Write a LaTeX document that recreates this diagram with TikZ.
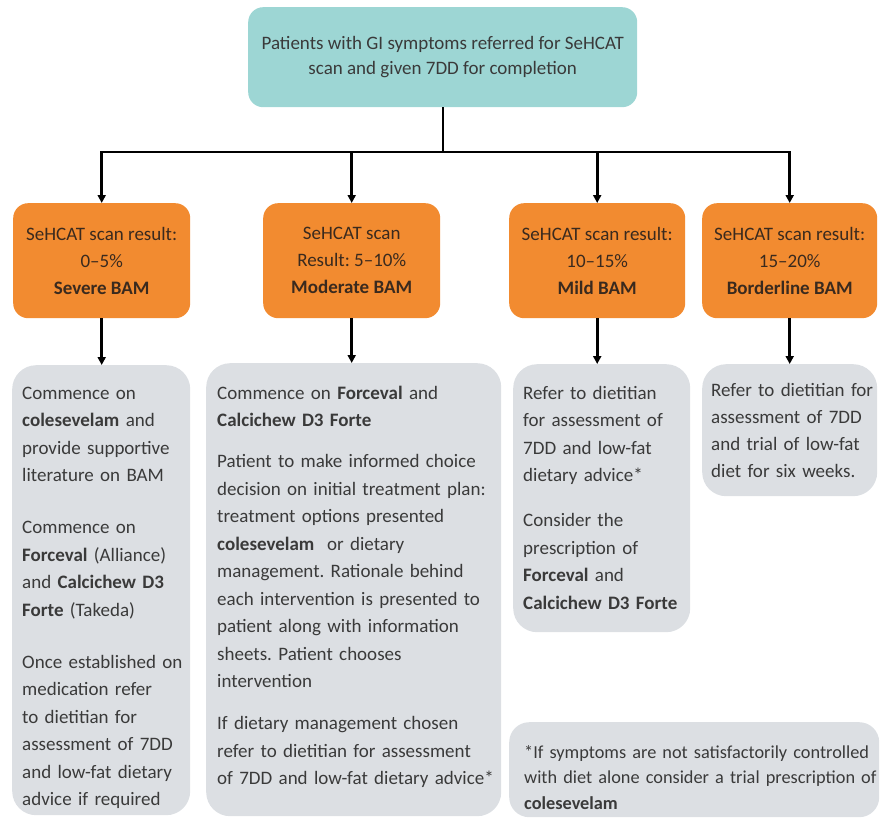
\documentclass[tikz,border=0pt]{standalone}
\usepackage{fontspec}
\setmainfont{Carlito}
\usetikzlibrary{arrows.meta}
\definecolor{tealc}{HTML}{9DD6D4}
\definecolor{orangec}{HTML}{F28B30}
\definecolor{grayc}{HTML}{DCDFE3}
\definecolor{txtc}{HTML}{3A3A3A}
\definecolor{otxt}{HTML}{3A2A1E}
\tikzset{
  topbox/.style={fill=tealc, rounded corners=15pt, inner sep=0pt, align=center, anchor=north west,
    text=txtc, font=\fontsize{19}{25}\selectfont},
  resbox/.style={fill=orangec, rounded corners=15pt, inner sep=0pt, align=center, anchor=north west,
    text=otxt, font=\fontsize{19}{27}\selectfont, minimum height=115pt},
  actbox/.style={fill=grayc, rounded corners=24pt, inner sep=0pt, anchor=north west},
  txt/.style={align=left, anchor=base west, inner sep=0pt, text=txtc, font=\fontsize{19}{27.5}\selectfont},
  conn/.style={line width=2.6pt, draw=black},
  arr/.style={conn, -{Triangle[length=8pt,width=8pt]}},
}
\begin{document}
\frenchspacing
\begin{tikzpicture}[x=1pt,y=-1pt]
\useasboundingbox (0,0) rectangle (880,821);
% top
\node[topbox, minimum width=389pt, minimum height=100pt] (top) at (248,7)
  {Patients with GI symptoms referred for SeHCAT\\scan and given 7DD for completion};
% results
\node[resbox, minimum width=177pt] (r1) at (13,203) {SeHCAT scan result:\\0–5\%\\\textbf{Severe BAM}};
\node[resbox, minimum width=177pt] (r2) at (263,203) {SeHCAT scan\\Result: 5–10\%\\\textbf{Moderate BAM}};
\node[resbox, minimum width=176pt] (r3) at (509,203) {SeHCAT scan result:\\10–15\%\\\textbf{Mild BAM}};
\node[resbox, minimum width=175pt] (r4) at (702,203) {SeHCAT scan result:\\15–20\%\\\textbf{Borderline BAM}};
% action boxes
\node[actbox, minimum width=178pt, minimum height=450pt] (g1) at (12,365) {};
\node[actbox, minimum width=295pt, minimum height=453pt] (g2) at (206,363) {};
\node[actbox, minimum width=177pt, minimum height=268pt] (g3) at (513,364) {};
\node[actbox, minimum width=175pt, minimum height=132pt] (g4) at (702,364) {};
\node[actbox, rounded corners=20pt, minimum width=370pt, minimum height=95pt] (fn) at (509,722) {};
% texts
\node[txt, text width=172pt] (t1) at (22,399) {Commence on\\\textbf{colesevelam} and\\provide supportive\\literature on BAM\\[24.5pt]
Commence on\\\textbf{Forceval} (Alliance)\\and \textbf{Calcichew D3}\\\textbf{Forte} (Takeda)\\[24.5pt]
Once established on\\medication refer\\to dietitian for\\assessment of 7DD\\and low-fat dietary\\advice if required};
\node[txt, text width=285pt] (t2) at (217,399) {Commence on \textbf{Forceval} and\\\textbf{Calcichew D3 Forte}\\[13.5pt]
Patient to make informed choice\\decision on initial treatment plan:\\treatment options presented\\\textbf{colesevelam}\ \ or dietary\\management. Rationale behind\\each intervention is presented to\\patient along with information\\sheets. Patient chooses\\intervention\\[14.5pt]
If dietary management chosen\\refer to dietitian for assessment\\of 7DD and low-fat dietary advice*};
\node[txt, text width=170pt] (t3) at (523,399) {Refer to dietitian\\for assessment of\\7DD and low-fat\\dietary advice*\\[17.5pt]
Consider the\\prescription of\\\textbf{Forceval} and\\\textbf{Calcichew D3 Forte}};
\node[txt, text width=170pt, font=\fontsize{19}{27.3}\selectfont] (t4) at (711,396) {Refer to dietitian for\\assessment of 7DD\\and trial of low-fat\\diet for six weeks.};
\node[txt, text width=400pt, font=\fontsize{18.3}{25.5}\selectfont] (t5) at (524,758) {*If symptoms are not satisfactorily controlled\\with diet alone consider a trial prescription of\\\textbf{colesevelam}};
% connectors
\coordinate (busy) at (0,152);
\draw[arr] (top.south -| 443,0) |- (busy -| r1.north) -- (r1.north);
\draw[arr] (top.south -| 443,0) |- (busy -| r4.north) -- (r4.north);
\draw[arr] (busy -| r2.north) -- (r2.north);
\draw[arr] (busy -| r3.north) -- (r3.north);
\draw[arr] (r1.south) -- (g1.north -| r1.south);
\draw[arr] (r2.south) -- (g2.north -| r2.south);
\draw[arr] (r3.south) -- (g3.north -| r3.south);
\draw[arr] (r4.south) -- (g4.north -| r4.south);
\end{tikzpicture}
\end{document}
